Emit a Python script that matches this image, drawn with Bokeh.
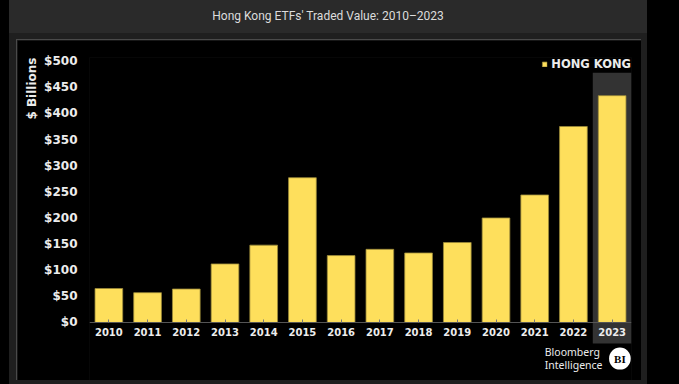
from bokeh.plotting import figure
from bokeh.layouts import column, row
from bokeh.models import (Div, Spacer, FixedTicker, Range1d, FactorRange, BoxAnnotation,
                          Label, Title, Legend, ColumnDataSource)
from bokeh.embed import file_html
from bokeh.resources import INLINE

years = ["2010", "2011", "2012", "2013", "2014", "2015", "2016",
         "2017", "2018", "2019", "2020", "2021", "2022", "2023"]
values = [65, 57, 64, 112, 148, 277, 128, 140, 133, 153, 200, 244, 375, 434]
y_ticks = [0, 50, 100, 150, 200, 250, 300, 350, 400, 450, 500]
tick_labels = {t: "$%d" % t for t in y_ticks}
series_name = "HONG KONG"
chart_title = "Hong Kong ETFs' Traded Value: 2010\u20132023"
highlight_year = "2023"

BAR = "#FEDF5C"
TXT = "#ECECEC"
GRAY = "#1f1f1f"
LINE = "#4a4a4a"

src = ColumnDataSource(dict(year=years, value=values))

p = figure(x_range=FactorRange(*years), y_range=Range1d(-111, 507),
           width=624, height=340, output_backend="svg", toolbar_location=None,
           background_fill_color="#000000", border_fill_color="#000000",
           outline_line_color=None,
           min_border_left=72, min_border_right=10, min_border_top=17, min_border_bottom=0)

# highlight behind last year
hi = years.index(highlight_year)
p.add_layout(BoxAnnotation(left=hi, right=hi + 1, bottom=-40, top=478,
                           fill_color="#333333", fill_alpha=1.0, line_color=None,
                           level="underlay"))

r = p.vbar(x="year", top="value", width=0.715, source=src, fill_color=BAR,
           line_color="#9c8a3a", line_width=0.8)

legend = Legend(items=[(series_name, [r])], location="top_right",
                padding=0, margin=0, spacing=0,
                glyph_width=6, glyph_height=6, label_standoff=4, label_height=14,
                label_text_font="DejaVu Sans", label_text_font_style="bold",
                label_text_font_size="11.5px", label_text_color=TXT,
                background_fill_alpha=0, border_line_alpha=0)
p.add_layout(legend)

p.xgrid.grid_line_color = None
p.ygrid.grid_line_color = None

p.yaxis.ticker = FixedTicker(ticks=y_ticks)
p.yaxis.major_label_overrides = tick_labels
p.yaxis.axis_line_color = None
p.yaxis.major_tick_line_color = None
p.yaxis.minor_tick_line_color = None
p.yaxis.major_tick_in = 0
p.yaxis.major_tick_out = 0
p.yaxis.minor_tick_in = 0
p.yaxis.minor_tick_out = 0
p.yaxis.major_label_standoff = 12
p.yaxis.major_label_text_font = "DejaVu Sans"
p.yaxis.major_label_text_font_style = "bold"
p.yaxis.major_label_text_font_size = "12px"
p.yaxis.major_label_text_color = TXT

p.xaxis.fixed_location = 0
p.xaxis.axis_line_color = "#555555"
p.xaxis.major_tick_line_color = "#777777"
p.xaxis.major_tick_in = 3
p.xaxis.major_tick_out = 0
p.xaxis.major_label_standoff = 6
p.xaxis.major_label_text_font = "DejaVu Sans"
p.xaxis.major_label_text_font_style = "bold"
p.xaxis.major_label_text_font_size = "10px"
p.xaxis.major_label_text_color = TXT

p.add_layout(Title(text="$ Billions", align="right", text_font="DejaVu Sans",
                   text_font_style="bold", text_font_size="12px", text_color=TXT,
                   standoff=6), "left")

p.add_layout(Label(x=11.76, y=-44, text="Bloomberg", text_font="Noto Sans",
                   text_font_size="10.5px", text_color=TXT, text_baseline="top"))
p.add_layout(Label(x=11.76, y=-67, text="Intelligence", text_font="Noto Sans",
                   text_font_size="10.5px", text_color=TXT, text_baseline="top"))
p.add_layout(Label(x=13.70, y=-69, text="BI", text_font="Liberation Serif",
                   text_font_style="bold", text_font_size="11px", text_color="#000000",
                   text_align="center", text_baseline="middle",
                   background_fill_color="#FFFFFF", padding=5, border_radius=11))

title = Div(text=chart_title, width=638, height=33, margin=0,
            styles={"background-color": "#2a2a2a", "color": "#DCDCDC",
                    "font-family": "Roboto", "font-size": "12px",
                    "text-align": "center", "line-height": "33px"})

panel = column(Spacer(width=625, height=1, styles={"background-color": LINE}),
               row(Spacer(width=1, height=340, styles={"background-color": LINE}), p))
box = column(title,
             Spacer(width=638, height=6),
             row(Spacer(width=7, height=341), panel),
             Spacer(width=638, height=4),
             styles={"background-color": GRAY})
root = row(Spacer(width=9, height=384, styles={"background-color": "#000000"}),
           box,
           Spacer(width=32, height=384, styles={"background-color": "#000000"}),
           styles={"background-color": "#000000"})

open("out.html", "w").write(file_html(root, INLINE))
